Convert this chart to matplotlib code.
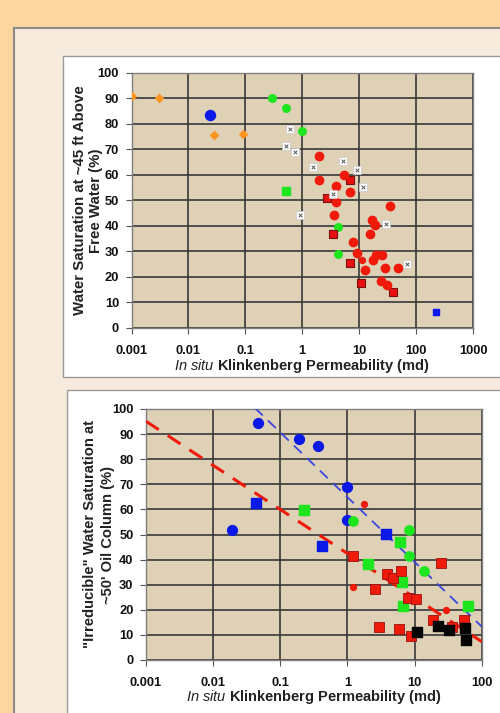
import matplotlib
matplotlib.use("Agg")
import matplotlib.pyplot as plt
from matplotlib.patches import Rectangle
import numpy as np

# ---------------- Top chart data ----------------
top_orange_diamond_k = [0.00104, 0.0031, 0.0278, 0.09]
top_orange_diamond_sw = [90.9, 90.2, 75.6, 75.9]
top_blue_circle_k = [0.0235]
top_blue_circle_sw = [83.4]
top_green_circle_k = [0.29, 0.51, 1.0, 4.2, 4.2]
top_green_circle_sw = [90.2, 86.3, 77.3, 39.4, 28.9]
top_green_square_k = [0.52]
top_green_square_sw = [53.8]
top_blue_square_k = [224]
top_blue_square_sw = [6.1]
top_red_circle_k = [2.0, 2.0, 5.5, 3.85, 6.95, 3.9, 3.6, 35.5, 16.9, 18.6, 15.2, 7.7,
                    9.2, 17.4, 19.5, 25, 12.9, 28.7, 49, 24.5, 30.5]
top_red_circle_sw = [67.4, 58.0, 60.0, 55.7, 53.2, 49.3, 44.1, 47.6, 42.2, 40.5, 37.0, 33.5,
                     29.3, 26.7, 28.4, 28.7, 22.8, 23.5, 23.5, 18.5, 17.0]
top_red_small_k = [11.3]
top_red_small_sw = [26.7]
top_red_square_k = [6.8, 2.76, 3.4, 6.95, 10.7, 40]
top_red_square_sw = [58.0, 51.1, 36.8, 25.3, 17.5, 14.0]
top_x_k = [0.6, 0.52, 0.76, 1.54, 5.3, 9.2, 11.5, 3.5, 0.9, 29.5, 69]
top_x_sw = [77.8, 71.3, 69.0, 63.2, 65.4, 61.7, 55.2, 52.6, 44.1, 40.6, 25.0]

# ---------------- Bottom chart data ----------------
bot_blue_circle_k = [0.046, 0.192, 0.369, 1.0, 1.0, 0.0193]
bot_blue_circle_sw = [94.3, 88.0, 85.1, 68.8, 55.6, 51.9]
bot_blue_square_k = [0.0437, 0.414, 3.76]
bot_blue_square_sw = [62.5, 45.6, 50.3]
bot_green_square_k = [0.228, 2.05, 6.4, 6.8, 63, 6.0]
bot_green_square_sw = [59.8, 38.2, 31.2, 21.5, 21.5, 46.9]
bot_green_circle_k = [1.22, 8.4, 8.4, 14]
bot_green_circle_sw = [55.4, 51.9, 41.6, 35.5]
bot_red_square_k = [1.22, 3.85, 4.8, 6.2, 2.58, 7.9, 10.5, 24.8, 19, 35.7, 55, 3.0, 5.9, 8.8]
bot_red_square_sw = [41.6, 34.2, 32.6, 35.6, 28.3, 24.6, 24.3, 38.8, 16.0, 13.0, 16.0, 13.0, 12.4, 9.6]
bot_red_small_k = [1.79, 1.2, 29]
bot_red_small_sw = [62.1, 29.0, 20.0]
bot_black_square_k = [10.8, 22.1, 33, 56, 59]
bot_black_square_sw = [11.0, 13.6, 12.0, 12.6, 8.0]
red_trend_k = [0.001, 100]
red_trend_sw = [95.1, 7.3]
blue_trend_k = [0.042, 100]
blue_trend_sw = [100.4, 13.3]

x_ticks_top = [0.001, 0.01, 0.1, 1, 10, 100, 1000]
x_ticklabels_top = ["0.001", "0.01", "0.1", "1", "10", "100", "1000"]
x_ticks_bot = [0.001, 0.01, 0.1, 1, 10, 100]
x_ticklabels_bot = ["0.001", "0.01", "0.1", "1", "10", "100"]
y_ticks = list(range(0, 101, 10))

plt.rcParams['font.family'] = ['Liberation Sans', 'DejaVu Sans']
plt.rcParams['mathtext.fontset'] = 'custom'
plt.rcParams['mathtext.it'] = 'Liberation Sans:italic'
plt.rcParams['mathtext.rm'] = 'Liberation Sans'
plt.rcParams['mathtext.bf'] = 'Liberation Sans:bold'

W, H = 500, 713
fig = plt.figure(figsize=(5, 7.13), dpi=100)
fig.patch.set_facecolor("#FDD5A0")

def px_rect(x0, y0, x1, y1, fc, ec=None, lw=0, z=-10):
    r = Rectangle((x0 / W, 1 - y1 / H), (x1 - x0) / W, (y1 - y0) / H,
                  transform=fig.transFigure, facecolor=fc,
                  edgecolor=ec if ec else fc, linewidth=lw, zorder=z)
    fig.patches.append(r)

# cream panel with a shadowed border
px_rect(14, 28, 503, 716, "#F6EBDC", ec="#8A8A8A", lw=1.5, z=-10)
# white chart boxes
px_rect(63, 56, 503, 377, "white", ec="#9A9A9A", lw=1.0, z=-9)
px_rect(67, 390, 503, 716, "white", ec="#9A9A9A", lw=1.0, z=-9)

FACE = "#DED1B6"
GRID = "#383838"
XLABEL = r"$\mathit{In\ situ}$ Klinkenberg Permeability (md)"

def style_ax(ax, xt, xtl, xmax):
    ax.set_facecolor(FACE)
    ax.set_xscale("log")
    ax.set_xlim(0.001, xmax)
    ax.set_ylim(0, 100)
    ax.set_xticks(xt)
    ax.set_xticklabels(xtl)
    ax.minorticks_off()
    ax.set_yticks(y_ticks)
    ax.grid(True, color=GRID, linewidth=1.2)
    ax.set_axisbelow(True)
    for s in ax.spines.values():
        s.set_color("#808080")
        s.set_linewidth(1.0)
    ax.tick_params(axis="both", labelsize=9.3, length=4, color="#555555")
    ax.tick_params(axis="x", pad=8)
    ax.tick_params(axis="y", pad=5)
    for lab in ax.get_xticklabels() + ax.get_yticklabels():
        lab.set_fontweight("bold")
        lab.set_color("#111111")

# ---------------- Top axes ----------------
ax1 = fig.add_axes([131.5 / W, 1 - 328 / H, (473 - 131.5) / W, (328 - 72.7) / H])
ax1.set_zorder(5)
style_ax(ax1, x_ticks_top, x_ticklabels_top, 1000)
ax1.scatter(top_orange_diamond_k, top_orange_diamond_sw, marker="D", s=16, color="#FF9420", zorder=3)
ax1.scatter(top_blue_circle_k, top_blue_circle_sw, marker="o", s=52, color="#0A18E8", zorder=3)
ax1.scatter(top_green_circle_k, top_green_circle_sw, marker="o", s=30, color="#1EE61E", zorder=3)
ax1.scatter(top_green_square_k, top_green_square_sw, marker="s", s=36, color="#1EE61E", zorder=3)
ax1.scatter(top_blue_square_k, top_blue_square_sw, marker="s", s=24, color="#0A18E8", zorder=3)
ax1.scatter(top_red_square_k, top_red_square_sw, marker="s", s=36, color="#E81010",
            edgecolors="#7A1010", linewidths=0.8, zorder=3)
ax1.scatter(top_red_circle_k, top_red_circle_sw, marker="o", s=36, color="#F01A0A", zorder=4)
ax1.scatter(top_red_small_k, top_red_small_sw, marker="o", s=18, color="#F01A0A", zorder=4)
ax1.scatter(top_x_k, top_x_sw, marker="s", s=28, color="white", edgecolors="#C8C8C8",
            linewidths=0.5, zorder=5)
ax1.scatter(top_x_k, top_x_sw, marker="x", s=7, color="#555555", linewidths=0.7, zorder=6)
ax1.set_xlabel(XLABEL, fontsize=10.5, fontweight="bold", color="#222222")
ax1.set_ylabel("Water Saturation at ~45 ft Above\nFree Water (%)", fontsize=10.8,
               fontweight="bold", color="#222222", linespacing=1.2)
ax1.yaxis.set_label_coords(-0.083, 0.5)
ax1.xaxis.set_label_coords(0.5, -0.115)

# ---------------- Bottom axes ----------------
ax2 = fig.add_axes([146 / W, 1 - 660 / H, (481.7 - 146) / W, (660 - 409) / H])
ax2.set_zorder(5)
style_ax(ax2, x_ticks_bot, x_ticklabels_bot, 100)
ax2.plot(red_trend_k, red_trend_sw, linestyle=(0, (5, 3.5)), color="#F01A0A", linewidth=2.2, zorder=3)
ax2.plot(blue_trend_k, blue_trend_sw, linestyle=(0, (6, 4)), color="#3A46E0", linewidth=1.3, zorder=3)
ax2.scatter(bot_blue_circle_k, bot_blue_circle_sw, marker="o", s=50, color="#0A18E8", zorder=4)
ax2.scatter(bot_blue_square_k, bot_blue_square_sw, marker="s", s=45, color="#0A18E8", zorder=4)
ax2.scatter(bot_green_square_k, bot_green_square_sw, marker="s", s=45, color="#1EE61E", zorder=4)
ax2.scatter(bot_green_circle_k, bot_green_circle_sw, marker="o", s=45, color="#1EE61E", zorder=4)
ax2.scatter(bot_red_square_k, bot_red_square_sw, marker="s", s=45, color="#F01A0A",
            edgecolors="#9A1010", linewidths=0.6, zorder=4)
ax2.scatter(bot_red_small_k, bot_red_small_sw, marker="o", s=18, color="#F01A0A", zorder=4)
ax2.scatter(bot_black_square_k, bot_black_square_sw, marker="s", s=45, color="#050505", zorder=4)
ax2.set_xlabel(XLABEL, fontsize=10.5, fontweight="bold", color="#222222")
ax2.set_ylabel("\"Irreducible\" Water Saturation at\n~50' Oil Column (%)", fontsize=10.6,
               fontweight="bold", color="#222222", linespacing=1.3)
ax2.yaxis.set_label_coords(-0.093, 0.5)
ax2.xaxis.set_label_coords(0.5, -0.112)

fig.savefig("out.png", dpi=100, facecolor=fig.get_facecolor())
